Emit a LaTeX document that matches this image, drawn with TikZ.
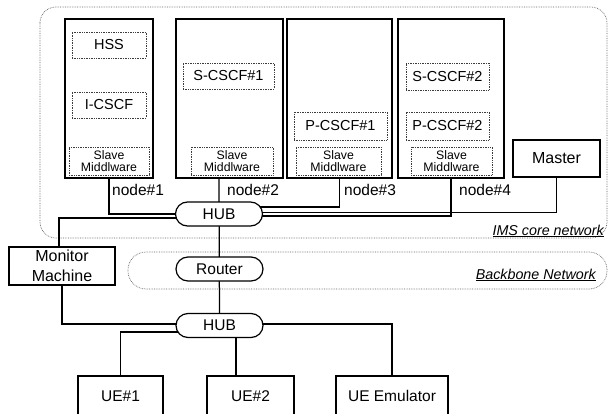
\documentclass[tikz,border=0pt]{standalone}
\usepackage{fontspec}
\setmainfont{Liberation Sans}
\usetikzlibrary{calc, backgrounds, positioning}
\definecolor{areaGray}{RGB}{95,95,95}
\definecolor{moduleGray}{RGB}{60,60,60}
\tikzset{
    testbed/.style={line join=miter, x=1pt, y=-1pt},
    machine/.style={draw=black, line width=1.2pt, fill=white, inner sep=0pt,
                    align=center, font=\fontsize{15.5}{19}\selectfont},
    module/.style={draw=moduleGray, densely dotted, line width=0.7pt, fill=white,
                   inner sep=0pt, align=center, minimum height=26pt,
                   font=\fontsize{14.5}{16}\selectfont},
    middleware/.style={module, minimum height=28pt,
                       font=\fontsize{12.3}{12.3}\selectfont},
    hub/.style={draw=black, line width=1.2pt, fill=white, rounded corners=12pt,
                minimum width=87pt, minimum height=24pt, inner sep=0pt,
                font=\fontsize{15.5}{18}\selectfont},
    area/.style={draw=areaGray, densely dotted, line width=0.7pt},
    link/.style={draw=black, line width=1.25pt},
    tag/.style={inner sep=1pt, anchor=west, font=\fontsize{15.5}{18}\selectfont},
    netlabel/.style={inner sep=1pt, anchor=east,
                     font=\fontsize{14.3}{16}\selectfont\itshape},
}

\begin{document}
\begin{tikzpicture}[testbed]
\clip (0,0) rectangle (609,414);

% ─── IMS core machines ──────────────────────────────────────────────────
\node[machine, minimum width=88pt,  minimum height=159pt] (n1) at (109,98.5)   {};
\node[machine, minimum width=107pt, minimum height=159pt] (n2) at (229.5,98.5) {};
\node[machine, minimum width=105pt, minimum height=159pt] (n3) at (339.5,98.5) {};
\node[machine, minimum width=106pt, minimum height=159pt] (n4) at (451,98.5)   {};
\node[machine, minimum width=87pt, minimum height=37pt,
      font=\fontsize{16}{19}\selectfont] (master) at (556.5,158.5) {Master};

% ─── Modules ────────────────────────────────────────────────────────────
\node[module, minimum width=74pt] (hss)   at (109,45)    {HSS};
\node[module, minimum width=74pt] (icscf) at (109,105)   {I-CSCF};
\node[module, minimum width=91pt] (scscf1) at (228.5,76) {S-CSCF\#1};
\node[module, minimum width=93pt, minimum height=28pt] (pcscf1) at (340.5,126) {P-CSCF\#1};
\node[module, minimum width=83pt, minimum height=27pt] (scscf2) at (447.5,76.5) {S-CSCF\#2};
\node[module, minimum width=83pt, minimum height=28pt] (pcscf2) at (447.5,126)  {P-CSCF\#2};

\node[middleware, minimum width=80pt] (mw1) at (109,161)   {Slave\\Middlware};
\node[middleware, minimum width=82pt] (mw2) at (232,161)   {Slave\\Middlware};
\node[middleware, minimum width=85pt] (mw3) at (338.5,161) {Slave\\Middlware};
\node[middleware, minimum width=81pt] (mw4) at (451.5,161) {Slave\\Middlware};

% ─── Node tags ──────────────────────────────────────────────────────────
\node[tag] (tag1) at (111,190) {node\#1};
\node[tag] (tag2) at (226,190) {node\#2};
\node[tag] (tag3) at (343,190) {node\#3};
\node[tag] (tag4) at (458,190) {node\#4};

% ─── Hubs, router, outside machines ─────────────────────────────────────
\node[hub] (hubtop) at (219,214)     {HUB};
\node[hub] (router) at (219.5,269)   {Router};
\node[hub] (hubbot) at (219.5,325.5) {HUB};

\node[machine, minimum width=106pt, minimum height=38pt, inner sep=0pt,
      font=\fontsize{16}{19.5}\selectfont] (mon) at (62,266) {Monitor\\Machine};

\node[machine, minimum width=85pt,  minimum height=40pt] (ue1)   at (120.5,396) {UE\#1};
\node[machine, minimum width=87pt,  minimum height=40pt] (ue2)   at (250.5,396) {UE\#2};
\node[machine, minimum width=112pt, minimum height=40pt] (ueemu) at (392,396)   {UE Emulator};

% ─── Network labels ─────────────────────────────────────────────────────
\node[netlabel] (imslbl)  at (605,231) {\underline{IMS core network}};
\node[netlabel] (backlbl) at (597,275) {\underline{Backbone Network}};

% ─── Areas and cabling (behind) ─────────────────────────────────────────
\begin{scope}[on background layer]
    \draw[area, rounded corners=16pt] (40,7) rectangle (607,238);
    \draw[area, rounded corners=18pt] (128,252) rectangle (607,289);

    \draw[link] (n1.south) |- (hubtop.center);
    \draw[link] (hubtop |- n2.south) -- (hubbot.center);
    \draw[link] (n3.south) |- ($(hubtop.center)+(0,-7)$);
    \draw[link] (master.south) |- ($(hubtop.center)+(0,-1.5)$);
    \draw[link] (n4.south) |- ($(hubtop.center)+(0,2)$);
    \draw[link] ($(mon.north)+(-3,0)$) |- ($(hubtop.center)+(0,4)$);

    \draw[link] (mon.south) |- ($(hubbot.center)+(0,-1.5)$);
    \draw[link] ($(hubbot.center)+(0,6.5)$) -| (ue1.north);
    \coordinate (tap) at ($(hubbot.center)+(16.5,0)$);
    \draw[link] (tap) -- (tap |- ue2.north);
    \draw[link] ($(hubbot.center)+(0,-1.5)$) -| (ueemu.north);
\end{scope}

\end{tikzpicture}
\end{document}
